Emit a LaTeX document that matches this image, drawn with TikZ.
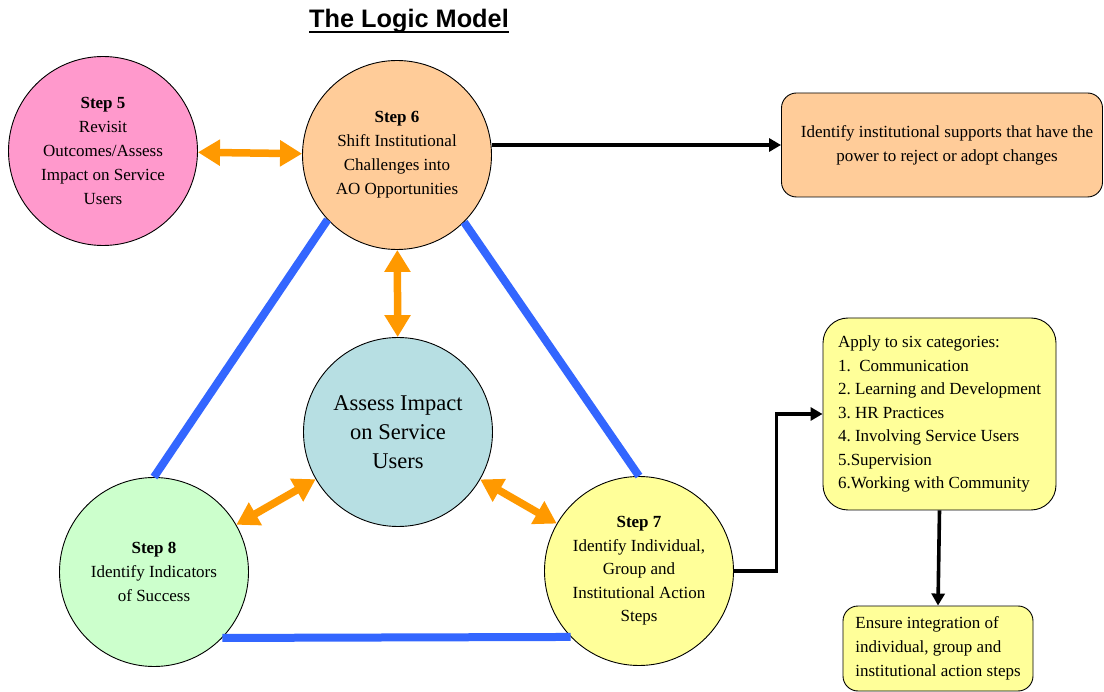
\documentclass[tikz,border=0pt]{standalone}
\usepackage{fontspec}
\setmainfont{Liberation Serif}
\newfontfamily\titlefont{Liberation Sans}
\usetikzlibrary{arrows.meta,calc}
\definecolor{pinkfill}{HTML}{FF99CC}
\definecolor{peachfill}{HTML}{FFCC99}
\definecolor{tealfill}{HTML}{B7DFE3}
\definecolor{greenfill}{HTML}{CCFFCC}
\definecolor{yellowfill}{HTML}{FFFF99}
\definecolor{blueline}{HTML}{3366FF}
\definecolor{orangearr}{HTML}{FF9900}
\tikzset{
  stepcircle/.style={circle, draw=black, line width=0.9pt, minimum size=189pt, inner sep=0pt,
    align=center, font=\fontsize{17}{24}\selectfont},
  infobox/.style={draw=black, line width=0.9pt, rounded corners=15pt, inner sep=0pt},
  bluelink/.style={blueline, line width=8pt},
  oarrow/.style={orangearr, line width=7.5pt,
    {Triangle[width=25pt,length=22pt]}-{Triangle[width=25pt,length=22pt]}},
  karrow/.style={black, line width=3.6pt, -{Triangle[width=13pt,length=12pt]}},
}
\begin{document}
\frenchspacing
\begin{tikzpicture}[x=1pt,y=-1pt]
\useasboundingbox (0,0) rectangle (1104,692);
% title
\node[inner sep=0pt, anchor=base, font=\titlefont\bfseries\fontsize{25.3}{28}\selectfont] (title) at (409,28) {The Logic Model};
\draw[line width=2.2pt] ([yshift=-4pt]title.base west) -- ([yshift=-4pt]title.base east);

% circles
\node[stepcircle, fill=pinkfill] (s5) at (103,151) {\textbf{Step 5}\\Revisit\\Outcomes/Assess\\Impact on Service\\Users};
\node[stepcircle, fill=peachfill] (s6) at (397,155) {\textbf{Step 6}\\Shift Institutional\\Challenges into\\AO Opportunities};
\node[stepcircle, fill=tealfill, font=\fontsize{22.5}{29}\selectfont] (ai) at (398,432) {Assess Impact\\on Service\\Users};
\node[stepcircle, fill=greenfill] (s8) at (154,572) {\textbf{Step 8}\\Identify Indicators\\of Success};
\node[stepcircle, fill=yellowfill, font=\fontsize{17}{23.5}\selectfont] (s7) at (639,571) {\textbf{Step 7}\\Identify Individual,\\Group and\\Institutional Action\\Steps};

% boxes
\node[infobox, fill=peachfill, minimum width=321pt, minimum height=104pt, align=center,
  font=\fontsize{17}{24}\selectfont] (idbox) at (942,145)
  {\hspace*{10pt}Identify institutional supports that have the\\\hspace*{10pt}power to reject or adopt changes};
\node[infobox, fill=yellowfill, rounded corners=25pt, minimum width=233pt, minimum height=192pt,
  align=left, font=\fontsize{17}{23.5}\selectfont] (apply) at (939.5,414)
  {Apply to six categories:\\1.\ \ Communication\\2. Learning and Development\\3. HR Practices\\4. Involving Service Users\\5.Supervision\\6.Working with Community};
\node[infobox, fill=yellowfill, minimum width=190pt, minimum height=85pt,
  align=left, font=\fontsize{17}{24}\selectfont] (ensure) at (938,648.5)
  {Ensure integration of\\individual, group and\\institutional action steps};

% blue triangle
\draw[bluelink] (s6.223) -- (s8.north);
\draw[bluelink] (s6.315) -- (s7.north);
\draw[bluelink] (s8.316) -- (s7.224);

% orange double arrows
\draw[oarrow] (s5) -- (s6);
\draw[oarrow] (s6) -- (ai);
\draw[oarrow] (s8) -- (ai);
\draw[oarrow] (ai) -- (s7);

% black arrows
\draw[karrow] (idbox.west -| s6.east) -- (idbox.west);
\draw[karrow] (s7.east) -| ([xshift=-46pt]apply.west) -- (apply.west);
\draw[karrow] (apply.south) -- (ensure.north);
\end{tikzpicture}
\end{document}
